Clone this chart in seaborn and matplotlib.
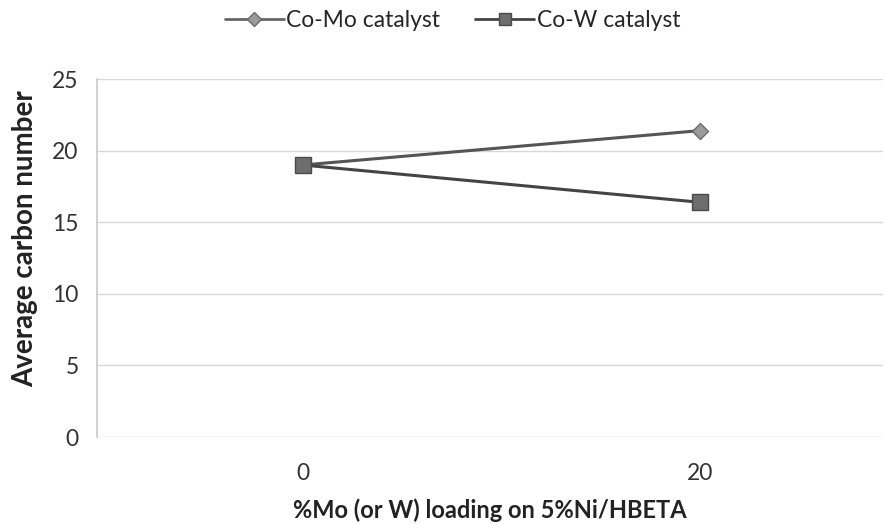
import matplotlib
matplotlib.use("Agg")
import matplotlib.pyplot as plt
import seaborn as sns
import pandas as pd
from matplotlib.lines import Line2D

loading = ["0", "20"]
como = [19.0, 21.4]
cow = [19.0, 16.4]
series_names = ["Co-Mo catalyst", "Co-W catalyst"]
yticks = [0, 5, 10, 15, 20, 25]

sns.set_theme(style="white")
plt.rcParams['font.family'] = ['Lato', 'DejaVu Sans']

df = pd.DataFrame({
    "x": list(range(len(loading))) * 2,
    "y": como + cow,
    "series": [series_names[0]] * len(loading) + [series_names[1]] * len(loading),
})

fig = plt.figure(figsize=(8.87, 5.24), dpi=100)
ax = fig.add_axes([0.109, 0.166, 0.886, 0.683])

palette = {series_names[0]: "#555555", series_names[1]: "#444444"}
sns.lineplot(data=df, x="x", y="y", hue="series", palette=palette, ax=ax,
             linewidth=2.2, legend=False, zorder=2)
styles = {series_names[0]: dict(marker="D", ms=8, mfc="#9a9a9a", mec="#6a6a6a"),
          series_names[1]: dict(marker="s", ms=11, mfc="#6e6e6e", mec="#4a4a4a")}
for name in [series_names[0], series_names[1]]:
    sub = df[df.series == name]
    ax.plot(sub.x, sub.y, linestyle="none", zorder=3, **styles[name])

ax.set_xlim(-0.519, 1.461)
ax.set_ylim(0, 25)
ax.set_yticks(yticks)
ax.set_xticks(range(len(loading)))
ax.set_xticklabels(loading)
ax.tick_params(axis="both", length=0, labelsize=16.5, colors="#333333")
ax.tick_params(axis="y", pad=13)
ax.tick_params(axis="x", pad=19)
ax.yaxis.grid(True, color="#d8d8d8", linewidth=1)
for s in ["top", "right", "bottom"]:
    ax.spines[s].set_visible(False)
ax.spines["left"].set_color("#cccccc")
ax.set_ylabel("Average carbon number", fontsize=20, fontweight="bold", color="#222222")
ax.yaxis.set_label_coords(-0.074, 0.555)
ax.set_xlabel("%Mo (or W) loading on 5%Ni/HBETA", fontsize=17, fontweight="bold", color="#222222", labelpad=10)

handles = [Line2D([], [], color="#666666", lw=2, marker="D", ms=7, mfc="#9a9a9a", mec="#6a6a6a"),
           Line2D([], [], color="#444444", lw=2, marker="s", ms=9, mfc="#6e6e6e", mec="#4a4a4a")]
fig.legend(handles, series_names, loc="upper center", bbox_to_anchor=(0.51, 1.02), ncol=2,
           frameon=False, fontsize=16.5, handlelength=2.6, columnspacing=1.5, handletextpad=0.1)

fig.savefig("out.png", dpi=100)
